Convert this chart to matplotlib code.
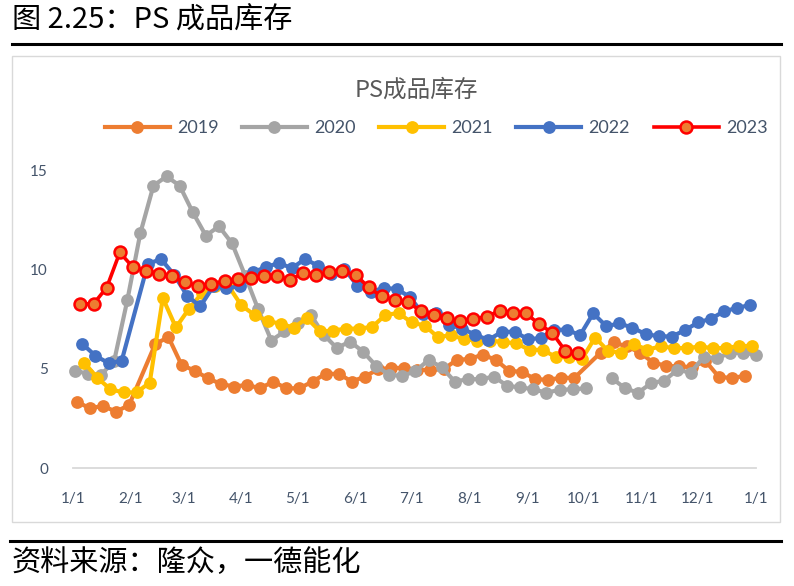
import numpy as np
import pandas as pd
import matplotlib
matplotlib.use('Agg')
import matplotlib.pyplot as plt
from matplotlib.lines import Line2D
from matplotlib.patches import Rectangle

plt.rcParams['font.family'] = ['Lato', 'Noto Sans CJK SC', 'DejaVu Sans']

# ---------------- data ----------------
years = ['2019', '2020', '2021', '2022', '2023']
start_dates = ['2019-01-03', '2020-01-02', '2021-01-07', '2022-01-06', '2023-01-05']

v2019 = [3.35, 3.01, 3.13, 2.84, 3.18, None, 6.26, 6.60, 5.20, 4.91,
         4.53, 4.24, 4.11, 4.19, 4.02, 4.36, 4.02, 4.02, 4.36, 4.75,
         4.75, 4.36, 4.61, 4.98, 5.05, 5.05, 4.95, 4.95, 4.98, 5.45,
         5.50, 5.72, 5.45, 4.90, 4.85, 4.48, 4.45, 4.55, 4.55, None,
         5.82, 6.33, 6.13, 5.82, 5.32, 5.15, 5.12, 5.09, 5.40, 4.61,
         4.53, 4.65]
v2020 = [4.91, 4.75, 4.70, 5.40, 8.45, 11.85, 14.24, 14.71, 14.24, 12.90,
         11.72, 12.19, 11.33, 9.70, 8.00, 6.43, 6.89, 7.31, 7.73, 6.72,
         6.05, 6.38, 5.87, 5.15, 4.70, 4.65, 4.88, 5.45, 5.09, 4.36,
         4.48, 4.48, 4.61, 4.14, 4.07, 3.97, 3.80, 3.94, 3.97, 4.02,
         None, 4.53, 4.02, 3.80, 4.28, 4.41, 4.95, 4.81, 5.59, 5.54,
         5.79, 5.82, 5.71]
v2021 = [5.31, 4.55, 3.97, 3.81, 3.81, 4.31, 8.57, 7.09, 8.03, 8.83,
         9.19, 9.19, 8.20, 7.72, 7.42, 7.27, 7.08, 7.56, 6.89, 6.93,
         7.03, 7.03, 7.12, 7.73, 7.81, 7.34, 7.18, 6.60, 6.70, 6.50,
         6.42, 6.42, 6.36, 6.28, 5.96, 5.96, 5.60, 5.60, 5.50, 6.58,
         5.90, 5.82, 6.24, 5.96, 6.14, 6.05, 6.05, 6.12, 6.05, 6.05,
         6.15, 6.16]
v2022 = [6.26, 5.66, 5.29, 5.40, None, 10.29, 10.54, 9.75, 8.69, 8.15,
         9.16, 9.07, 9.16, 9.87, 10.13, 10.34, 10.08, 10.54, 10.20, 9.80,
         10.05, 9.19, 8.90, 9.07, 9.04, 8.62, 7.78, 7.81, 7.22, 7.03,
         6.72, 6.46, 6.86, 6.88, 6.50, 6.55, 6.98, 6.97, 6.70, 7.80,
         7.15, 7.29, 7.08, 6.75, 6.65, 6.63, 6.95, 7.34, 7.53, 7.91,
         8.07, 8.23]
v2023 = [8.28, 8.28, 9.10, 10.87, 10.13, 9.95, 9.80, 9.66, 9.36, 9.18,
         9.29, 9.43, 9.55, 9.58, 9.66, 9.66, 9.50, 9.83, 9.75, 9.87,
         9.92, 9.75, 9.11, 8.65, 8.48, 8.35, 7.92, 7.73, 7.57, 7.39,
         7.51, 7.64, 7.93, 7.81, 7.81, 7.26, 6.83, 5.92, 5.80]
series_values = [v2019, v2020, v2021, v2022, v2023]
connect_gaps = [True, False, True, True, True]

tick_labels = ['1/1', '2/1', '3/1', '4/1', '5/1', '6/1', '7/1', '8/1',
               '9/1', '10/1', '11/1', '12/1', '1/1']
tick_days = [0, 31, 59, 90, 120, 151, 181, 212, 243, 273, 304, 334, 365]

colors = ['#ED7D31', '#A5A5A5', '#FFC000', '#4472C4', '#FF0000']
text_col = '#44546A'

# ---------------- figure ----------------
W, H = 794, 586
fig = plt.figure(figsize=(W / 100, H / 100), dpi=100)


def fx(px):
    return px / W


def fy(py):
    return 1 - py / H


# header / footer
fig.text(fx(12), fy(21), '图 2.25：PS 成品库存', fontsize=21, ha='left', va='center',
         family=['Noto Sans CJK SC', 'DejaVu Sans'], color='black')
fig.add_artist(Line2D([fx(12), fx(781)], [fy(43.5), fy(43.5)], color='black', lw=2.2))
fig.add_artist(Rectangle((fx(12), fy(522)), (780 - 12) / W, (522 - 56) / H,
                         transform=fig.transFigure, fill=False, ec='#D9D9D9', lw=1))
fig.add_artist(Line2D([fx(10), fx(781)], [fy(540.5), fy(540.5)], color='black', lw=2.2))
fig.text(fx(12), fy(563), '资料来源：隆众，一德能化', fontsize=21, ha='left', va='center',
         family=['Noto Sans CJK SC', 'DejaVu Sans'], color='black')

# chart title
fig.text(fx(416), fy(90), 'PS成品库存', fontsize=17, ha='center', va='center',
         family=['Noto Sans CJK SC', 'DejaVu Sans'], color='#595959')

# axes
ax = fig.add_axes([fx(73), fy(468), (756 - 73) / W, (468 - 170.6) / H])
ax.set_xlim(0, 365)
ax.set_ylim(0, 15)

handles = []
for i, (yr, sd, vals) in enumerate(zip(years, start_dates, series_values)):
    dates = pd.date_range(sd, periods=len(vals), freq='7D')
    doy = np.asarray((dates - pd.Timestamp(f'{yr}-01-01')).days, dtype=float)
    y = np.array([np.nan if v is None else v for v in vals], dtype=float)
    if connect_gaps[i]:
        m = ~np.isnan(y)
        doy, y = doy[m], y[m]
    c = colors[i]
    if yr == '2023':
        kw = dict(color=c, lw=2.6, marker='o', ms=8.6, mfc='#ED7D31', mec='#FF0000', mew=1.8)
    else:
        kw = dict(color=c, lw=3.0, marker='o', ms=9.2, mfc=c, mec=c, mew=0)
    ax.plot(doy, y, clip_on=False, zorder=3 + i, solid_capstyle='round', **kw)
    handles.append(Line2D([], [], **kw))

for s in ['left', 'right', 'top']:
    ax.spines[s].set_visible(False)
ax.spines['bottom'].set_color('#D9D9D9')
ax.spines['bottom'].set_linewidth(1.3)
ax.set_xticks(tick_days)
ax.set_xticklabels(tick_labels)
ax.set_yticks([0, 5, 10, 15])
ax.tick_params(axis='both', length=0, labelsize=11, labelcolor=text_col)
ax.tick_params(axis='x', pad=17)
ax.tick_params(axis='y', pad=18)

fig.legend(handles, years, loc='center', bbox_to_anchor=(fx(436), fy(128)), ncol=5,
           frameon=False, prop={'family': 'Lato', 'size': 13}, labelcolor=text_col,
           handlelength=3.6, handletextpad=0.4, columnspacing=1.3)

fig.savefig('out.png', dpi=100)
